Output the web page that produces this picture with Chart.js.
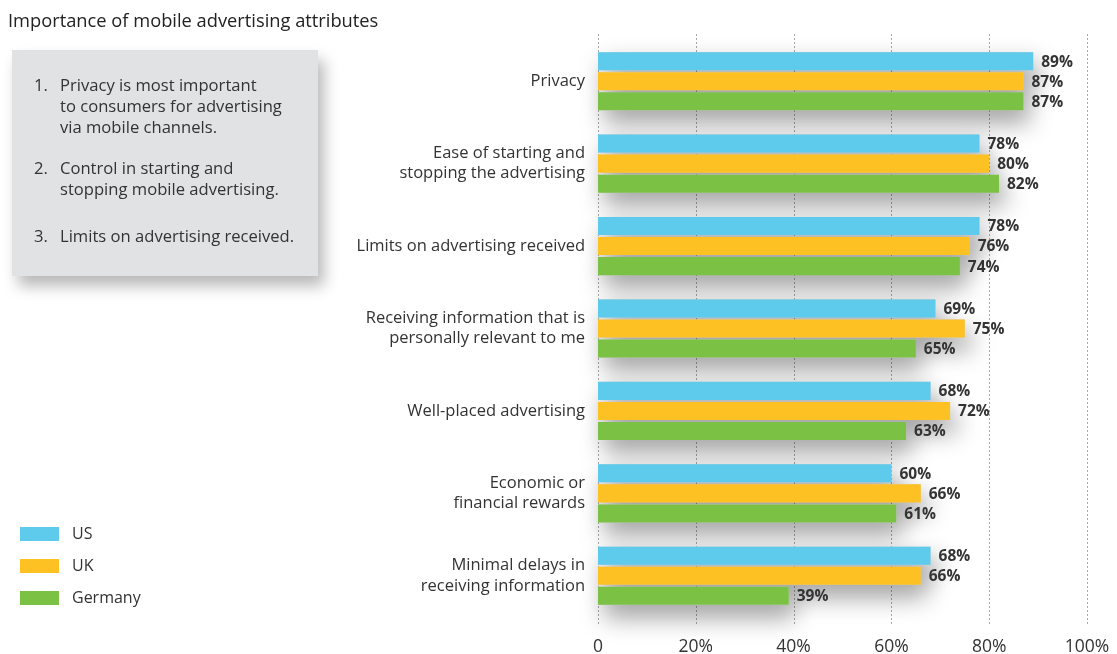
<!DOCTYPE html>
<html><head><meta charset="utf-8">
<script src="https://cdn.jsdelivr.net/npm/chart.js@4.4.1/dist/chart.umd.min.js"></script>
<style>
html,body{margin:0;padding:0;background:#fff;}
body{width:1117px;height:654px;position:relative;overflow:hidden;font-family:"Open Sans",sans-serif;color:#333;}
#wrap{position:absolute;left:0;top:0;width:1117px;height:654px;}
#title{position:absolute;left:8px;top:7px;font-size:18.3px;color:#222;white-space:nowrap;}
#box{position:absolute;left:12px;top:50px;width:306px;height:226px;background:#e1e2e3;box-shadow:6px 10px 14px rgba(0,0,0,0.28);font-size:16.6px;color:#333;line-height:21px;}
#box .it{position:absolute;left:22px;}
#box .n{position:absolute;left:0;}
#box .t{position:absolute;left:26px;white-space:nowrap;}
#legend{position:absolute;left:20px;top:522px;font-size:16px;color:#333;}
#legend .row{position:relative;height:32px;}
#legend .sw{position:absolute;left:0;top:5px;width:39px;height:14px;}
#legend .lb{position:absolute;left:52px;top:0;white-space:nowrap;}
</style></head>
<body>
<div id="wrap"><canvas id="c" width="1117" height="654"></canvas></div>
<div id="title">Importance of mobile advertising attributes</div>
<div id="box">
  <div class="it" style="top:24px"><span class="n">1.</span><span class="t">Privacy is most important<br>to consumers for advertising<br>via mobile channels.</span></div>
  <div class="it" style="top:107px"><span class="n">2.</span><span class="t">Control in starting and<br>stopping mobile advertising.</span></div>
  <div class="it" style="top:175px"><span class="n">3.</span><span class="t">Limits on advertising received.</span></div>
</div>
<div id="legend"></div>
<script>
const categories = [
  ["Privacy"],
  ["Ease of starting and","stopping the advertising"],
  ["Limits on advertising received"],
  ["Receiving information that is","personally relevant to me"],
  ["Well-placed advertising"],
  ["Economic or","financial rewards"],
  ["Minimal delays in","receiving information"]
];
const seriesNames = ["US","UK","Germany"];
const usValues = [89,78,78,69,68,60,68];
const ukValues = [87,80,76,75,72,66,66];
const germanyValues = [87,82,74,65,63,61,39];
const seriesColors = ["#5ecbec","#fec124","#7bc143"];
const tickValues = [0,20,40,60,80,100];

const leg = document.getElementById('legend');
seriesNames.forEach((n,i)=>{
  const r=document.createElement('div');r.className='row';
  r.innerHTML='<div class="sw" style="background:'+seriesColors[i]+'"></div><div class="lb">'+n+'</div>';
  leg.appendChild(r);
});

const gridPlugin = {
  id:'dotGrid',
  beforeDatasetsDraw(chart){
    const ctx=chart.ctx, xs=chart.scales.x, a=chart.chartArea;
    ctx.save();
    ctx.strokeStyle='#a8a8a8';
    ctx.lineWidth=1;
    ctx.setLineDash([2,2]);
    tickValues.forEach(v=>{
      const x=Math.round(xs.getPixelForValue(v))+0.5;
      ctx.beginPath();ctx.moveTo(x,a.top-6);ctx.lineTo(x,a.bottom+8);ctx.stroke();
    });
    ctx.restore();
  }
};
const shadowPlugin = {
  id:'barShadow',
  beforeDatasetsDraw(chart){
    const ctx=chart.ctx;
    ctx.save();
    ctx.shadowColor='rgba(0,0,0,0.42)';
    ctx.shadowBlur=24;
    ctx.shadowOffsetX=6;
    ctx.shadowOffsetY=12;
    chart.data.datasets.forEach((ds,i)=>{
      chart.getDatasetMeta(i).data.forEach(bar=>{
        ctx.fillStyle='#cfd0d1';
        ctx.fillRect(bar.base,bar.y-bar.height/2,bar.x-bar.base,bar.height);
      });
    });
    ctx.restore();
  }
};
const labelPlugin = {
  id:'valLabels',
  afterDatasetsDraw(chart){
    const ctx=chart.ctx;
    ctx.save();
    ctx.font='bold 15.5px "Open Sans", sans-serif';
    ctx.fillStyle='#333';
    ctx.textAlign='left';
    ctx.textBaseline='middle';
    chart.data.datasets.forEach((ds,i)=>{
      chart.getDatasetMeta(i).data.forEach((bar,j)=>{
        ctx.fillText(ds.data[j]+'%',bar.x+8,bar.y+1);
      });
    });
    ctx.restore();
  }
};

new Chart(document.getElementById('c'),{
  type:'bar',
  data:{
    labels:categories,
    datasets:[
      {label:seriesNames[0],data:usValues,backgroundColor:seriesColors[0]},
      {label:seriesNames[1],data:ukValues,backgroundColor:seriesColors[1]},
      {label:seriesNames[2],data:germanyValues,backgroundColor:seriesColors[2]}
    ]
  },
  options:{
    indexAxis:'y',
    responsive:false,
    animation:false,
    layout:{padding:{left:0,right:30,top:40,bottom:0}},
    datasets:{bar:{categoryPercentage:0.73,barPercentage:0.9}},
    plugins:{legend:{display:false},tooltip:{enabled:false}},
    scales:{
      x:{
        min:0,max:100,
        afterBuildTicks(s){s.ticks=tickValues.map(v=>({value:v}));},
        ticks:{callback:v=>v===0?'0':v+'%',color:'#333',font:{family:'"Open Sans", sans-serif',size:17.5},padding:20,maxRotation:0},
        grid:{display:false,drawTicks:false,tickLength:0},
        border:{display:false},
        afterFit(s){s.height=37;s.paddingLeft=0;s.paddingRight=0;}
      },
      y:{
        ticks:{color:'#333',font:{family:'"Open Sans", sans-serif',size:16.5,lineHeight:1.22},padding:13,autoSkip:false},
        grid:{display:false,drawTicks:false,tickLength:0},
        border:{display:false},
        afterFit(s){s.width=598;s.paddingTop=0;s.paddingBottom=0;}
      }
    }
  },
  plugins:[gridPlugin,shadowPlugin,labelPlugin]
});
</script>
</body></html>
